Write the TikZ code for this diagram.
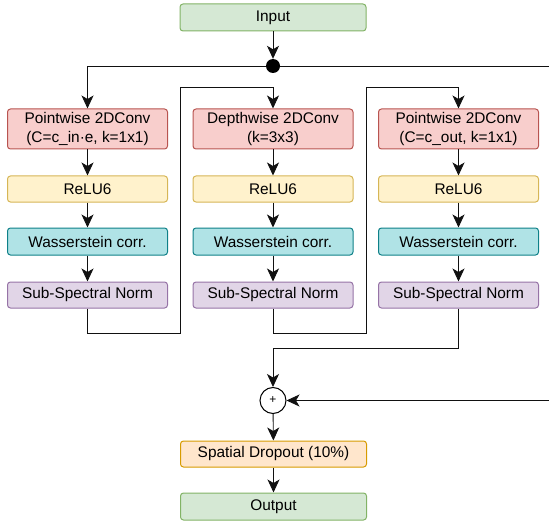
\documentclass[tikz,border=0pt]{standalone}
\usepackage{fontspec}
\setmainfont{Liberation Sans}
\usetikzlibrary{arrows.meta}
\definecolor{gfill}{HTML}{D5E8D4}\definecolor{gdraw}{HTML}{82B366}
\definecolor{rfill}{HTML}{F8CECC}\definecolor{rdraw}{HTML}{B85450}
\definecolor{yfill}{HTML}{FFF2CC}\definecolor{ydraw}{HTML}{D6B656}
\definecolor{tfill}{HTML}{B0E3E6}\definecolor{tdraw}{HTML}{0E8088}
\definecolor{pfill}{HTML}{E1D5E7}\definecolor{pdraw}{HTML}{9673A6}
\definecolor{ofill}{HTML}{FFE6CC}\definecolor{odraw}{HTML}{D79B00}
\definecolor{lcol}{HTML}{111111}
\tikzset{
  x=1pt, y=-1pt,
  box/.style={draw, rounded corners=3pt, line width=1pt, inner sep=0pt, align=center,
    font=\fontsize{15.4}{19.5}\selectfont},
  gbox/.style={box, fill=gfill, draw=gdraw, minimum width=186pt, minimum height=27pt},
  obox/.style={box, fill=ofill, draw=odraw, minimum width=186pt, minimum height=26pt},
  conv/.style={box, fill=rfill, draw=rdraw, minimum width=160pt, minimum height=40pt},
  relu/.style={box, fill=yfill, draw=ydraw, minimum width=160pt, minimum height=26pt},
  wass/.style={box, fill=tfill, draw=tdraw, minimum width=160pt, minimum height=27pt},
  ssn/.style={box, fill=pfill, draw=pdraw, minimum width=160pt, minimum height=26pt},
  conn/.style={draw=lcol, line width=0.9pt},
  arr/.style={conn, -{Stealth[length=13pt, width=12pt, inset=3.5pt]}},
}
\begin{document}
\begin{tikzpicture}
\useasboundingbox (0,0) rectangle (549,524);
\node[gbox] (in) at (273,17.5) {Input};
\node[circle, fill=black, inner sep=0pt, minimum size=14pt] (dot) at (273,66) {};
\foreach \n/\x in {1/87.5, 2/273, 3/458.5} {
  \node[relu] (relu\n) at (\x,189) {ReLU6};
  \node[wass] (wass\n) at (\x,241.5) {Wasserstein corr.};
  \node[ssn] (ssn\n) at (\x,295) {Sub-Spectral Norm};
}
\node[conv] (conv1) at (87.5,129) {Pointwise 2DConv\\(C=c\_in·e, k=1x1)};
\node[conv] (conv2) at (273,129) {Depthwise 2DConv\\(k=3x3)};
\node[conv] (conv3) at (458.5,129) {Pointwise 2DConv\\(C=c\_out, k=1x1)};
\node[circle, draw=black, fill=white, line width=1pt, inner sep=0pt, minimum size=26pt,
  font=\fontsize{12}{12}\selectfont] (plus) at (273,400.5) {+};
\node[obox] (drop) at (273.5,454) {Spatial Dropout (10\%)};
\node[gbox] (out) at (273.5,506.5) {Output};

\coordinate (rtop) at (549,66);
\coordinate (rbot) at (549,400.5);
\coordinate (a1) at (87.5,333);
\coordinate (a2) at (180,333);
\coordinate (a3) at (180,87.5);
\coordinate (b1) at (273,333);
\coordinate (b2) at (366,333);
\coordinate (b3) at (366,87.5);
\coordinate (c1) at (458.5,348);

\draw[arr] (in) -- (dot);
\draw[conn] (dot) -- (rtop);
\draw[arr] (dot) -| (conv1);
\foreach \n in {1,2,3} {
  \draw[arr] (conv\n) -- (relu\n);
  \draw[arr] (relu\n) -- (wass\n);
  \draw[arr] (wass\n) -- (ssn\n);
}
\draw[arr] (ssn1) -- (a1) -- (a2) -- (a3) -| (conv2);
\draw[arr] (ssn2) -- (b1) -- (b2) -- (b3) -| (conv3);
\draw[arr] (ssn3) -- (c1) -| (plus);
\draw[arr] (rbot) -- (plus);
\draw[arr] (plus) -- (drop);
\draw[arr] (drop) -- (out);
\end{tikzpicture}
\end{document}
